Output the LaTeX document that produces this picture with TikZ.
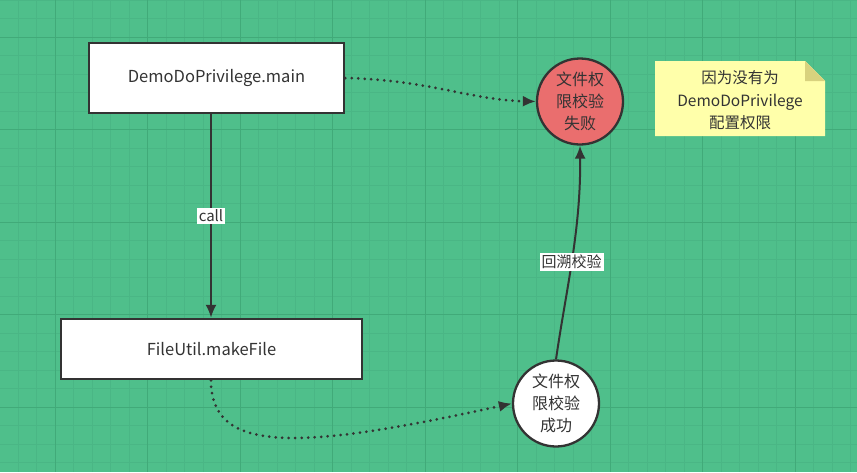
\documentclass[tikz,border=0pt]{standalone}
\usepackage{fontspec}
\setmainfont{Noto Sans CJK SC}
\usetikzlibrary{arrows.meta}
\definecolor{bg}{HTML}{4FBF8B}
\definecolor{gminor}{HTML}{4AB685}
\definecolor{gmajor}{HTML}{41AA79}
\definecolor{ink}{HTML}{333333}
\definecolor{redc}{HTML}{EA6E6E}
\definecolor{notey}{HTML}{FFFFAA}
\definecolor{notef}{HTML}{D8D27E}
\tikzset{
  box/.style={draw=ink, line width=2.5pt, fill=white, text=ink, inner sep=0pt, font=\fontsize{16.5}{19}\selectfont},
  circ/.style={circle, draw=ink, line width=2.3pt, text=ink, minimum size=86pt, inner sep=0pt, align=center, font=\fontsize{16}{22}\selectfont},
  conn/.style={draw=ink, line width=2pt, -{Latex[length=13pt,width=11pt]}},
  dotconn/.style={draw=ink, line width=3pt, line cap=round, dash pattern=on 0pt off 6.5pt, -{Latex[length=13pt,width=11pt]}},
  lbl/.style={fill=white, text=ink, inner sep=2pt, font=\fontsize{15}{17}\selectfont},
}
\begin{document}
\begin{tikzpicture}[x=1pt,y=-1pt]
\path[fill=bg] (0,0) rectangle (857,472);
\useasboundingbox (0,0) rectangle (857,472);
\foreach \i in {0,...,46} {\draw[gminor, line width=0.8pt] ({-0.5+18.5*\i},0) -- ({-0.5+18.5*\i},472);}
\foreach \i in {0,...,26} {\draw[gminor, line width=0.8pt] (0,{18.5*\i}) -- (857,{18.5*\i});}
\foreach \i in {0,...,9} {\draw[gmajor, line width=1pt] ({55+92.5*\i},0) -- ({55+92.5*\i},472);}
\foreach \i in {0,...,4} {\draw[gmajor, line width=1pt] (0,{37+92.5*\i}) -- (857,{37+92.5*\i});}

\node[box, minimum width=255pt, minimum height=70pt] (main) at (216.5,78) {DemoDoPrivilege.main};
\node[box, minimum width=301pt, minimum height=60pt] (file) at (211.5,349) {FileUtil.makeFile};
\node[circ, fill=redc] (fail) at (580,101.5) {文件权\\限校验\\失败};
\node[circ, fill=white] (ok) at (556,403.5) {文件权\\限校验\\成功};

% note
\path[fill=notey] (655,61) -- (805,61) -- (825,81) -- (825,136) -- (655,136) -- cycle;
\path[fill=notef] (805,61) -- (825,81) -- (805,81) -- cycle;
\node[text=ink, align=center, font=\fontsize{15.5}{22.5}\selectfont] (note) at (740,100.5) {因为没有为\\DemoDoPrivilege\\配置权限};

\draw[conn] (main.south -| 211,0) -- (file.north -| 211,0) node[lbl, midway] (call) {call};
\draw[dotconn] (main.east |- 0,78) .. controls (430,80) and (470,100) .. (fail.west);
\draw[dotconn] (file.south -| 211,0) .. controls (211,455) and (300,450) .. (ok.west);
\draw[conn] (ok.north) .. controls (566,290) and (581,230) .. (fail.south) node[lbl, pos=0.48] (back) {回溯校验};
\end{tikzpicture}
\end{document}
